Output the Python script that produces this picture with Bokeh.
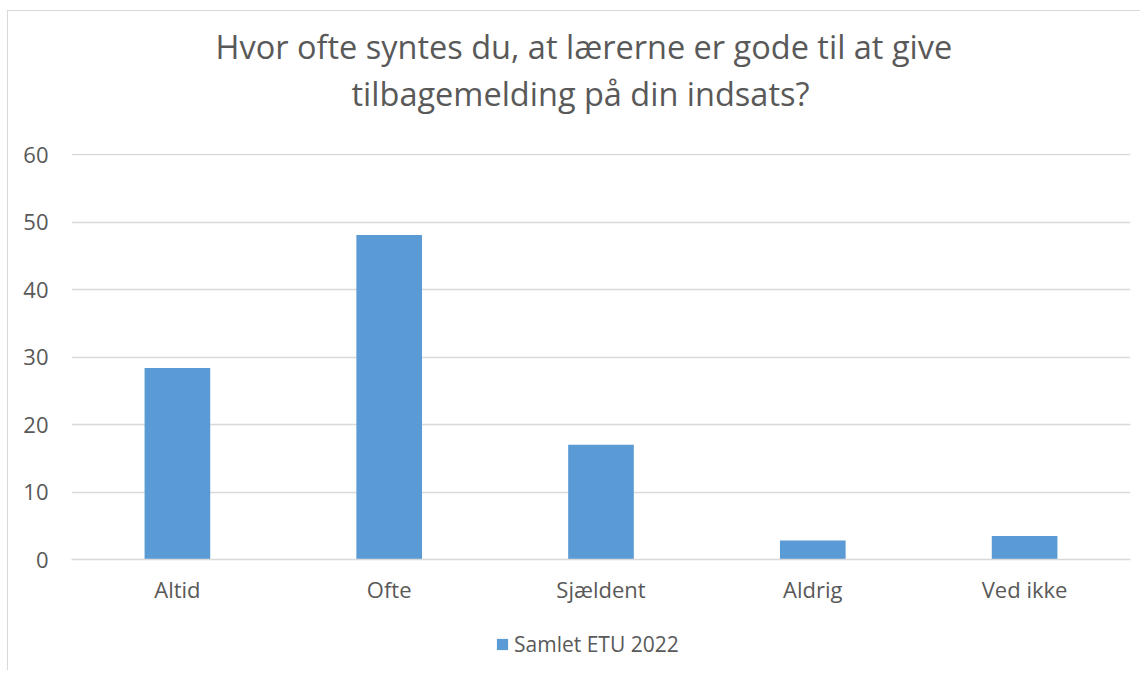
from bokeh.plotting import figure
from bokeh.layouts import column
from bokeh.models import FactorRange, Legend, LegendItem, Range1d, FixedTicker, ColumnDataSource, Title
from bokeh.embed import file_html
from bokeh.resources import INLINE

categories = ["Altid", "Ofte", "Sjældent", "Aldrig", "Ved ikke"]
values = [28.4, 48.1, 17.0, 2.8, 3.5]
series_name = "Samlet ETU 2022"
y_ticks = [0, 10, 20, 30, 40, 50, 60]
title_lines = ["Hvor ofte syntes du, at lærerne er gode til at give", "tilbagemelding på din indsats?"]
title_offsets = [144, 280]

FONT = "Open Sans"
TXT = "#595959"
GRID = "#D9D9D9"
BAR = "#5B9BD5"
W = 1132

p = figure(width=W, height=609, x_range=FactorRange(*categories), y_range=Range1d(0, 60.2),
           output_backend="svg", toolbar_location=None, tools="",
           min_border_left=63, min_border_right=10, min_border_top=142, min_border_bottom=61)

# spacer between title and plot area
p.add_layout(Title(text=" ", text_font=FONT, text_font_size="26px", standoff=0), "above")
for line, off in reversed(list(zip(title_lines, title_offsets))):
    t = Title(text=line, align="left", text_font=FONT, text_font_size="32.5px",
              text_font_style="normal", text_color=TXT, standoff=0, offset=off)
    p.add_layout(t, "above")

src = ColumnDataSource(dict(x=categories, top=values))
r = p.vbar(x="x", top="top", width=0.31, source=src, fill_color=BAR, line_color=None)

p.outline_line_color = None
p.background_fill_color = "white"
p.border_fill_color = "white"

p.yaxis.ticker = FixedTicker(ticks=y_ticks)
p.yaxis.axis_line_color = None
p.yaxis.major_tick_line_color = None
p.yaxis.minor_tick_line_color = None
p.yaxis.major_label_standoff = 17
p.yaxis.major_label_text_font = FONT
p.yaxis.major_label_text_font_size = "22px"
p.yaxis.major_label_text_color = TXT

p.xaxis.axis_line_color = GRID
p.xaxis.axis_line_width = 1.5
p.xaxis.major_tick_line_color = None
p.xaxis.minor_tick_line_color = None
p.xaxis.major_label_standoff = 8
p.xaxis.major_label_text_font = FONT
p.xaxis.major_label_text_font_size = "22px"
p.xaxis.major_label_text_color = TXT

p.xgrid.grid_line_color = None
p.ygrid.ticker = FixedTicker(ticks=y_ticks)
p.ygrid.grid_line_color = GRID
p.ygrid.grid_line_width = 1.5

# legend strip below the chart (its renderer is hidden; only the legend swatch shows)
p2 = figure(width=W, height=50, x_range=p.x_range, y_range=Range1d(-2, -1), output_backend="svg",
            toolbar_location=None, tools="", min_border=0)
p2.axis.visible = False
p2.grid.grid_line_color = None
p2.outline_line_color = None
r2 = p2.vbar(x="x", top="top", width=0.31, source=src, fill_color=BAR, line_color=None)
r2.visible = False
legend = Legend(items=[LegendItem(label=series_name, renderers=[r2])], orientation="horizontal",
                location=(424, 12), glyph_width=14, glyph_height=14, label_standoff=5,
                label_text_font=FONT, label_text_font_size="21px", label_text_color=TXT,
                border_line_color=None, background_fill_alpha=0, padding=0, margin=0,
                inactive_fill_alpha=0)
p2.add_layout(legend, "center")

layout = column(p, p2, spacing=0, margin=(10, 0, 0, 7),
                styles={"border-left": "1px solid #D9D9D9", "border-top": "1px solid #D9D9D9"})
open("out.html", "w").write(file_html(layout, INLINE))
